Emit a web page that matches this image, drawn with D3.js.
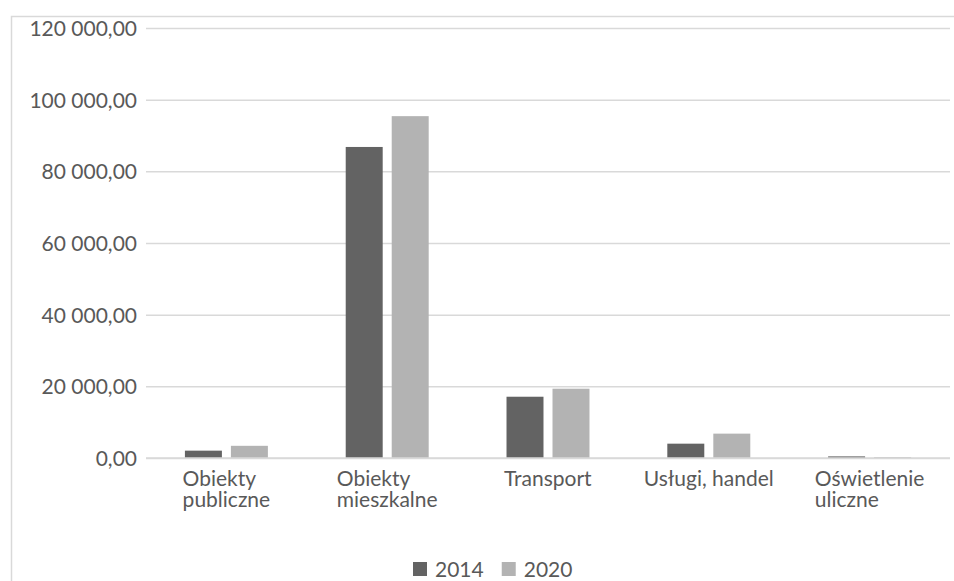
<!DOCTYPE html>
<html>
<head>
<meta charset="utf-8">
<script src="https://cdn.jsdelivr.net/npm/d3@7"></script>
<style>
  body { margin: 0; background: #fff; }
  text { font-family: Lato, "Liberation Sans", Arial, sans-serif; }
</style>
</head>
<body>
<div id="chart"></div>
<script>
// data
var categories = ["Obiekty publiczne", "Obiekty mieszkalne", "Transport", "Usługi, handel", "Oświetlenie uliczne"];
var categoryLines = [["Obiekty", "publiczne"], ["Obiekty", "mieszkalne"], ["Transport"], ["Usługi, handel"], ["Oświetlenie", "uliczne"]];
var seriesNames = ["2014", "2020"];
var values2014 = [2050, 86800, 17100, 4000, 450];
var values2020 = [3400, 95400, 19340, 6800, 250];
var yTicks = [0, 20000, 40000, 60000, 80000, 100000, 120000];

var colors = { "2014": "#636363", "2020": "#b3b3b3" };
var textColor = "#595959";
var gridColor = "#d9d9d9";

var W = 954, H = 581;
var margin = { top: 28, right: 4, bottom: 123, left: 146 };
var width = W - margin.left - margin.right;
var height = H - margin.top - margin.bottom;

var svgRoot = d3.select("#chart").append("svg")
    .attr("width", W)
    .attr("height", H);

// chart frame (runs off the right and bottom)
svgRoot.append("rect")
    .attr("x", 11.5).attr("y", 16.5)
    .attr("width", W).attr("height", H)
    .attr("fill", "none")
    .attr("stroke", gridColor)
    .attr("stroke-width", 1.5);

var svg = svgRoot.append("g")
    .attr("transform", "translate(" + margin.left + "," + margin.top + ")");

var plLocale = d3.formatLocale({ decimal: ",", thousands: " ", grouping: [3], currency: ["", ""] });
var fmt = plLocale.format(",.2f");

var y = d3.scaleLinear()
    .domain([0, 120000])
    .range([height, 0]);

var x0 = d3.scaleBand()
    .domain(categories)
    .range([0, width])
    .paddingInner(0.484)
    .paddingOuter(0.242);

var x1 = d3.scaleBand()
    .domain(seriesNames)
    .range([0, x0.bandwidth()])
    .paddingInner(0.196);

// y axis with gridlines
var yAxis = svg.append("g")
    .call(d3.axisLeft(y).tickValues(yTicks).tickFormat(fmt).tickSize(-width).tickPadding(9));
yAxis.select(".domain").remove();
yAxis.selectAll(".tick line")
    .attr("stroke", gridColor)
    .attr("stroke-width", 1.5);
yAxis.selectAll(".tick text")
    .attr("fill", textColor)
    .style("font-size", "21px")
    .attr("dy", "0.36em");

// bars
var rows = categories.map(function(c, i) {
    return { cat: c, vals: [ { s: "2014", v: values2014[i] }, { s: "2020", v: values2020[i] } ] };
});

var groups = svg.selectAll(".grp")
    .data(rows)
    .enter()
    .append("g")
    .attr("class", "grp")
    .attr("transform", function(d) { return "translate(" + x0(d.cat) + ",0)"; });

groups.selectAll("rect")
    .data(function(d) { return d.vals; })
    .enter()
    .append("rect")
    .attr("x", function(d) { return x1(d.s); })
    .attr("width", x1.bandwidth())
    .attr("y", function(d) { return y(d.v); })
    .attr("height", function(d) { return height - y(d.v); })
    .attr("fill", function(d) { return colors[d.s]; });

// baseline
svg.append("line")
    .attr("x1", 0).attr("x2", width)
    .attr("y1", y(0)).attr("y2", y(0))
    .attr("stroke", gridColor)
    .attr("stroke-width", 1.5);

// category labels: block centered, lines left aligned
var xAxis = svg.append("g")
    .attr("transform", "translate(0," + height + ")");

categories.forEach(function(c, i) {
    var cx = x0(c) + x0.bandwidth() / 2;
    var t = xAxis.append("text")
        .attr("fill", textColor)
        .style("font-size", "21px")
        .attr("y", 28);
    categoryLines[i].forEach(function(line, k) {
        t.append("tspan")
            .attr("x", 0)
            .attr("dy", k === 0 ? 0 : 21)
            .text(line);
    });
    var bw = t.node().getBBox().width;
    t.attr("transform", "translate(" + (cx - bw / 2) + ",0)");
});

// legend
var legend = svgRoot.append("g");
var lx = 413;
seriesNames.forEach(function(s) {
    legend.append("rect")
        .attr("x", lx).attr("y", 562)
        .attr("width", 14).attr("height", 14)
        .attr("fill", colors[s]);
    var t = legend.append("text")
        .attr("x", lx + 22).attr("y", 576.5)
        .attr("fill", textColor)
        .style("font-size", "21px")
        .text(s);
    lx = lx + 22 + t.node().getBBox().width + 18;
});
</script>
</body>
</html>
